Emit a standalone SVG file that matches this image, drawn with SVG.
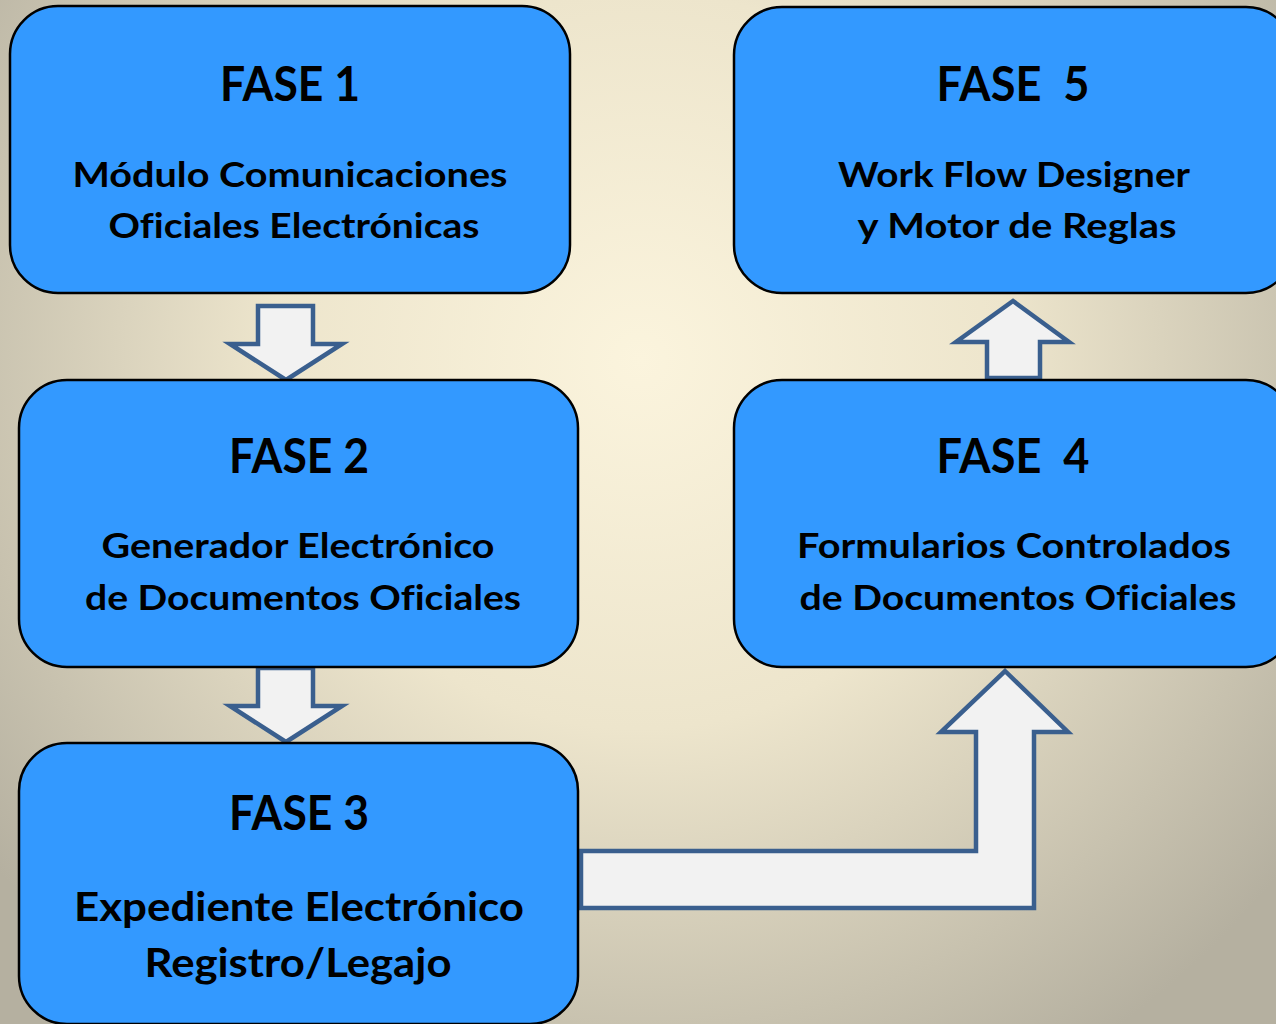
<svg xmlns="http://www.w3.org/2000/svg" width="1276" height="1024" viewBox="0 0 1276 1024">
<defs>
<radialGradient id="bg" cx="640" cy="360" r="820" gradientUnits="userSpaceOnUse">
<stop offset="0" stop-color="#FBF4DD"/>
<stop offset="0.45" stop-color="#EDE5CC"/>
<stop offset="1" stop-color="#B5B0A0"/>
</radialGradient>
<style>
.box{fill:#3399FF;stroke:#000;stroke-width:2.5}
.arr{fill:#F2F2F2;stroke:#3A5F8E;stroke-width:4.5;stroke-linejoin:miter}
text{font-family:Lato,"Open Sans","Liberation Sans",sans-serif;font-weight:bold;fill:#000;text-anchor:middle;white-space:pre;font-variant-ligatures:none;font-feature-settings:"liga" 0,"clig" 0}
.t{font-size:47px}
.b{font-size:35px}
.c{font-size:41px}
</style>
</defs>
<rect x="0" y="0" width="1276" height="1024" fill="url(#bg)"/>
<g id="connectors">
<path class="arr" d="M258,306 H313 V344 H342 L286,380 L230,344 H258 Z"/>
<path class="arr" d="M258,668 H313 V706 H342 L286,742 L230,706 H258 Z"/>
<path class="arr" d="M987,378 V342 H956 L1013,301 L1069,342 H1040 V378 Z"/>
<path class="arr" d="M581,851 H976 V732 H941 L1005,671 L1068,732 H1034 V908 H581 Z"/>
</g>
<g id="fase1">
<rect class="box" x="10" y="6" width="560" height="287" rx="48"/>
<text class="t" x="290" y="101" textLength="140" lengthAdjust="spacingAndGlyphs">FASE 1</text>
<text class="b" x="290" y="187" textLength="435" lengthAdjust="spacingAndGlyphs">Módulo Comunicaciones</text>
<text class="b" x="294" y="238" textLength="371" lengthAdjust="spacingAndGlyphs">Oficiales Electrónicas</text>
</g>
<g id="fase2">
<rect class="box" x="19" y="380" width="559" height="287" rx="48"/>
<text class="t" x="299" y="473" textLength="140" lengthAdjust="spacingAndGlyphs">FASE 2</text>
<text class="b" x="298" y="558" textLength="393" lengthAdjust="spacingAndGlyphs">Generador Electrónico</text>
<text class="b" x="303" y="610" textLength="436" lengthAdjust="spacingAndGlyphs">de Documentos Oficiales</text>
</g>
<g id="fase3">
<rect class="box" x="19" y="743" width="559" height="281" rx="48"/>
<text class="t" x="299" y="830" textLength="140" lengthAdjust="spacingAndGlyphs">FASE 3</text>
<text class="c" x="299" y="921" textLength="450" lengthAdjust="spacingAndGlyphs">Expediente Electrónico</text>
<text class="c" x="298" y="977" textLength="307" lengthAdjust="spacingAndGlyphs">Registro/Legajo</text>
</g>
<g id="fase4">
<rect class="box" x="734" y="380" width="560" height="287" rx="48"/>
<text class="t" x="1013" y="473" textLength="153" lengthAdjust="spacingAndGlyphs">FASE  4</text>
<text class="b" x="1014" y="558" textLength="434" lengthAdjust="spacingAndGlyphs">Formularios Controlados</text>
<text class="b" x="1018" y="610" textLength="437" lengthAdjust="spacingAndGlyphs">de Documentos Oficiales</text>
</g>
<g id="fase5">
<rect class="box" x="734" y="7" width="560" height="286" rx="48"/>
<text class="t" x="1013" y="101" textLength="153" lengthAdjust="spacingAndGlyphs">FASE  5</text>
<text class="b" x="1014" y="187" textLength="352" lengthAdjust="spacingAndGlyphs">Work Flow Designer</text>
<text class="b" x="1017" y="238" textLength="319" lengthAdjust="spacingAndGlyphs">y Motor de Reglas</text>
</g>
</svg>
